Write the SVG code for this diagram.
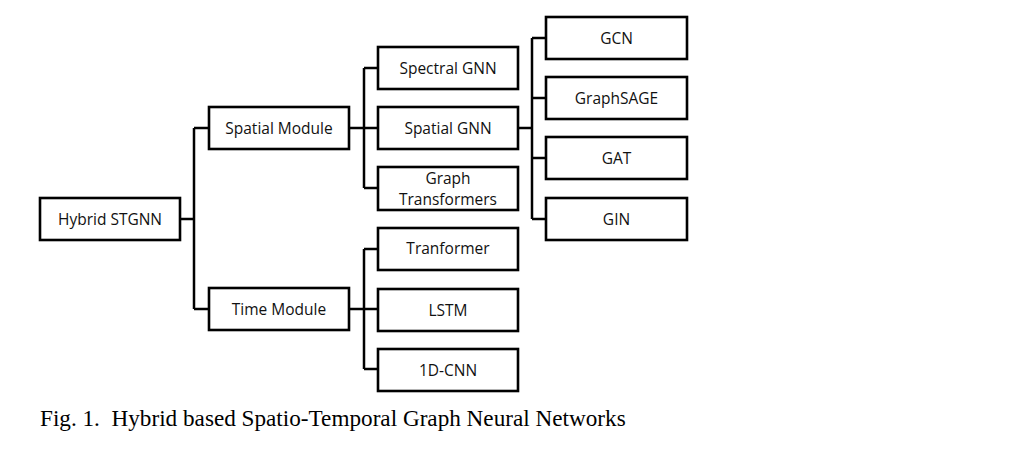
<svg xmlns="http://www.w3.org/2000/svg" width="1030" height="452" viewBox="0 0 1030 452">
<style>
.box{fill:#fff;stroke:#000;stroke-width:2.6}
.lbl{font-family:"Open Sans","Liberation Sans",sans-serif;font-size:15.5px;fill:#111;text-anchor:middle;dominant-baseline:central}
.con{fill:none;stroke:#000;stroke-width:2.5}
.cap{font-family:"Liberation Serif","Times New Roman",serif;font-size:23.2px;fill:#000}
</style>
<rect width="1030" height="452" fill="#fff"/>
<g id="connectors">
<path class="con" d="M180 219H194M194 128V309M194 128H209M194 309H209"/>
<path class="con" d="M349 128H364M364 68V188M364 68H378M364 188H378M364 128H378"/>
<path class="con" d="M349 309H364M364 249V369M364 249H378M364 369H378M364 309H378"/>
<path class="con" d="M518 128H532M532 38V219M532 38H546M532 98H546M532 158H546M532 219H546"/>
</g>
<g id="hybrid"><rect class="box" x="40" y="198" width="140" height="42"/><text class="lbl" x="110" y="219">Hybrid STGNN</text></g>
<g id="spatial-module"><rect class="box" x="209" y="107" width="140" height="42"/><text class="lbl" x="279" y="128">Spatial Module</text></g>
<g id="time-module"><rect class="box" x="209" y="288" width="140" height="42"/><text class="lbl" x="279" y="309">Time Module</text></g>
<g id="spectral-gnn"><rect class="box" x="378" y="47" width="140" height="42"/><text class="lbl" x="448" y="68">Spectral GNN</text></g>
<g id="spatial-gnn"><rect class="box" x="378" y="107" width="140" height="42"/><text class="lbl" x="448" y="128">Spatial GNN</text></g>
<g id="graph-transformers"><rect class="box" x="378" y="167" width="140" height="43"/><text class="lbl" x="448" y="177.5">Graph</text><text class="lbl" x="448" y="199">Transformers</text></g>
<g id="tranformer"><rect class="box" x="378" y="228" width="140" height="42"/><text class="lbl" x="448" y="248">Tranformer</text></g>
<g id="lstm"><rect class="box" x="378" y="289" width="140" height="42"/><text class="lbl" x="448" y="310">LSTM</text></g>
<g id="cnn1d"><rect class="box" x="378" y="349" width="140" height="42"/><text class="lbl" x="448" y="370">1D-CNN</text></g>
<g id="gcn"><rect class="box" x="546" y="17" width="141" height="42"/><text class="lbl" x="616.5" y="38">GCN</text></g>
<g id="graphsage"><rect class="box" x="546" y="77" width="141" height="42"/><text class="lbl" x="616.5" y="98">GraphSAGE</text></g>
<g id="gat"><rect class="box" x="546" y="137" width="141" height="42"/><text class="lbl" x="616.5" y="158">GAT</text></g>
<g id="gin"><rect class="box" x="546" y="198" width="141" height="42"/><text class="lbl" x="616.5" y="219">GIN</text></g>
<text class="cap" x="40" y="426" xml:space="preserve">Fig. 1.  Hybrid based Spatio-Temporal Graph Neural Networks</text>
</svg>
